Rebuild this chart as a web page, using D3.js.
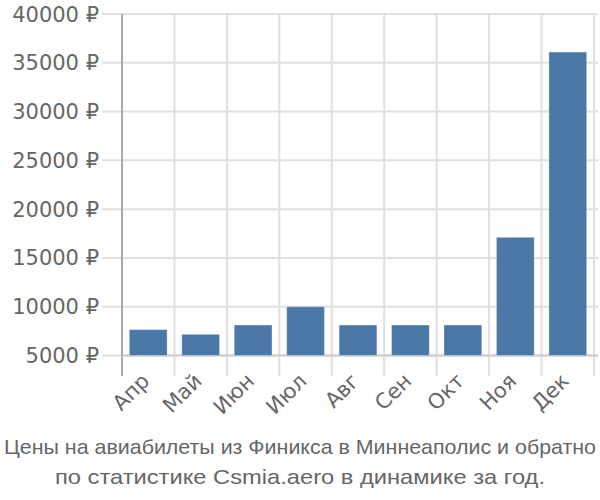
<!DOCTYPE html>
<html><head><meta charset="utf-8">
<script src="https://cdn.jsdelivr.net/npm/d3@7"></script>
<style>body{margin:0;background:#fff}svg{display:block}text{font-family:"DejaVu Sans",sans-serif;fill:#666}.t{font-family:"Liberation Sans",Arial,sans-serif}</style>
</head><body>
<svg id="c" width="600" height="500"></svg>
<script>
const months = ["Апр","Май","Июн","Июл","Авг","Сен","Окт","Ноя","Дек"];
const prices = [7650, 7170, 8120, 10000, 8120, 8120, 8120, 17110, 36100];
const yTicks = [5000,10000,15000,20000,25000,30000,35000,40000];
const titleLines = ["Цены на авиабилеты из Финикса в Миннеаполис и обратно","по статистике Csmia.aero в динамике за год."];
const titleWidths = [592, 490];

const svg = d3.select("#c");
const L=122, R=594, T=14, B=355.5;
const x = d3.scaleBand().domain(months).range([L,R]).paddingInner(0.28).paddingOuter(0.14);
const y = d3.scaleLinear().domain([5000,40000]).range([B,T]);

svg.append("g").selectAll("line").data(yTicks).join("line")
  .attr("x1",102).attr("x2",598).attr("y1",d=>y(d)).attr("y2",d=>y(d))
  .attr("stroke","#e0e0e0").attr("stroke-width",2);
const bounds = months.map(m=>x(m)-x.step()*x.paddingInner()/2);
bounds.push(R);
svg.append("g").selectAll("line").data(bounds.slice(1)).join("line")
  .attr("x1",d=>d).attr("x2",d=>d).attr("y1",T).attr("y2",376)
  .attr("stroke","#e0e0e0").attr("stroke-width",2);
svg.append("line").attr("x1",L).attr("x2",L).attr("y1",T).attr("y2",376)
  .attr("stroke","#aaa").attr("stroke-width",2);
svg.append("line").attr("x1",L).attr("x2",598).attr("y1",B).attr("y2",B)
  .attr("stroke","#ccc").attr("stroke-width",2);

svg.append("g").selectAll("rect").data(prices).join("rect")
  .attr("x",(d,i)=>x(months[i])).attr("width",x.bandwidth())
  .attr("y",d=>y(d)).attr("height",d=>B-y(d))
  .attr("fill","#4c78a8").attr("stroke","#fff").attr("stroke-opacity",0.3).attr("stroke-width",1);

svg.append("g").selectAll("text").data(yTicks).join("text")
  .attr("x",99).attr("y",d=>y(d)).attr("dy","0.36em").attr("text-anchor","end")
  .attr("font-size",21).text(d=>d+" ₽");

svg.append("g").selectAll("text").data(months).join("text")
  .attr("transform",m=>`translate(${x(m)+x.bandwidth()/2-8},${372}) rotate(-45)`)
  .attr("text-anchor","end").attr("dy","0.7em").attr("font-size",21).text(m=>m);

svg.append("g").selectAll("text").data(titleLines).join("text").attr("class","t")
  .attr("x",300).attr("text-anchor","middle").attr("y",(d,i)=>454+i*30)
  .attr("textLength",(d,i)=>titleWidths[i]).attr("lengthAdjust","spacingAndGlyphs")
  .attr("font-size",21).text(d=>d);
</script>
</body></html>
